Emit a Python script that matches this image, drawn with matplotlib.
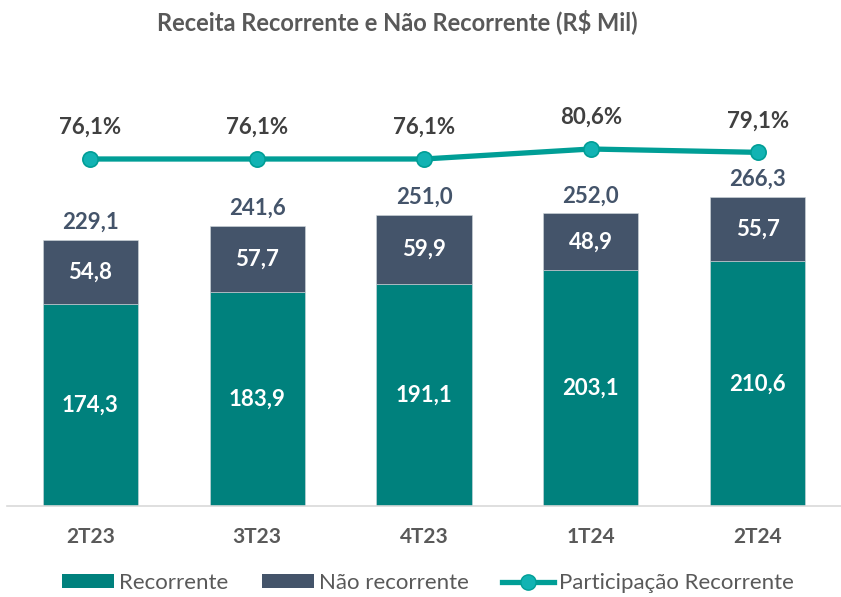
import numpy as np
import matplotlib.pyplot as plt
from matplotlib.lines import Line2D
from matplotlib.patches import Patch

plt.rcParams['font.family'] = ['Lato', 'DejaVu Sans']

quarters = ["2T23", "3T23", "4T23", "1T24", "2T24"]
recorrente = [174.3, 183.9, 191.1, 203.1, 210.6]
nao_recorrente = [54.8, 57.7, 59.9, 48.9, 55.7]
total = [229.1, 241.6, 251.0, 252.0, 266.3]
participacao = [76.1, 76.1, 76.1, 80.6, 79.1]

TEAL = "#00817D"
NAVY = "#44546A"
LINE = "#009E96"
MARKER = "#12B3B3"
GRAY = "#595959"

def br(v, fmt="{:.1f}"):
    return fmt.format(v).replace(".", ",")

fig = plt.figure(figsize=(8.41, 5.97), dpi=100)
W, H = 841, 597
ppu = 1.161  # pixels per R$ mil
ax = fig.add_axes([7 / W, (H - 506) / H, 834 / W, (506 - 80) / H])
x = np.arange(len(quarters))
w = 0.57

ax.bar(x, recorrente, w, color=TEAL, edgecolor="#D0D8DC", linewidth=0.4)
ax.bar(x, nao_recorrente, w, bottom=recorrente, color=NAVY, edgecolor="#D0D8DC", linewidth=0.4)

for i in range(len(x)):
    ax.text(x[i], recorrente[i] / 2, br(recorrente[i]), ha="center", va="center",
            color="white", fontsize=16, fontweight="bold")
    ax.text(x[i], recorrente[i] + nao_recorrente[i] / 2, br(nao_recorrente[i]),
            ha="center", va="center", color="white", fontsize=16, fontweight="bold")
    ax.text(x[i], total[i] + 17.5 / ppu, br(total[i]), ha="center", va="center",
            color=NAVY, fontsize=16, fontweight="bold")

ax.set_xlim(-0.5, 4.5)
ax.set_ylim(0, (506 - 80) / ppu)
ax.set_yticks([])
ax.set_xticks(x)
ax.set_xticklabels(quarters, fontsize=15, fontweight="bold", color=GRAY)
ax.tick_params(axis="x", length=0, pad=15)
for s in ["top", "right", "left"]:
    ax.spines[s].set_visible(False)
ax.spines["bottom"].set_color("#D9D9D9")
ax.spines["bottom"].set_linewidth(1.2)

ax2 = ax.twinx()
ax2.plot(x, participacao, color=LINE, linewidth=3.8, marker="o", markersize=11,
         markerfacecolor=MARKER, markeredgecolor=LINE, markeredgewidth=1.2, zorder=5)
ppx = 2.22
ax2.set_ylim(76.1 - (506 - 159) / ppx, 76.1 + (159 - 80) / ppx)
ax2.axis("off")
for i in range(len(x)):
    ax2.text(x[i], participacao[i] + 31.5 / ppx, br(participacao[i]) + "%", ha="center",
             va="center", color="#404040", fontsize=16, fontweight="bold")

fig.text(397 / W, 1 - 22 / H, "Receita Recorrente e Não Recorrente (R$ Mil)",
         ha="center", va="center", fontsize=17, fontweight="bold", color=GRAY)

handles = [
    Patch(facecolor=TEAL, edgecolor="none"),
    Patch(facecolor=NAVY, edgecolor="none"),
    Line2D([0], [0], color=LINE, linewidth=3.8, marker="o", markersize=11,
           markerfacecolor=MARKER, markeredgecolor=LINE),
]
labels = ["Recorrente", "Não recorrente", "Participação Recorrente"]
fig.legend(handles, labels, loc="center", bbox_to_anchor=(428 / W, 1 - 583 / H), ncol=3,
           frameon=False, fontsize=16, labelcolor=GRAY, handlelength=2.35,
           handleheight=0.6, handletextpad=0.22, columnspacing=1.5)

fig.savefig("out.png", dpi=100)
